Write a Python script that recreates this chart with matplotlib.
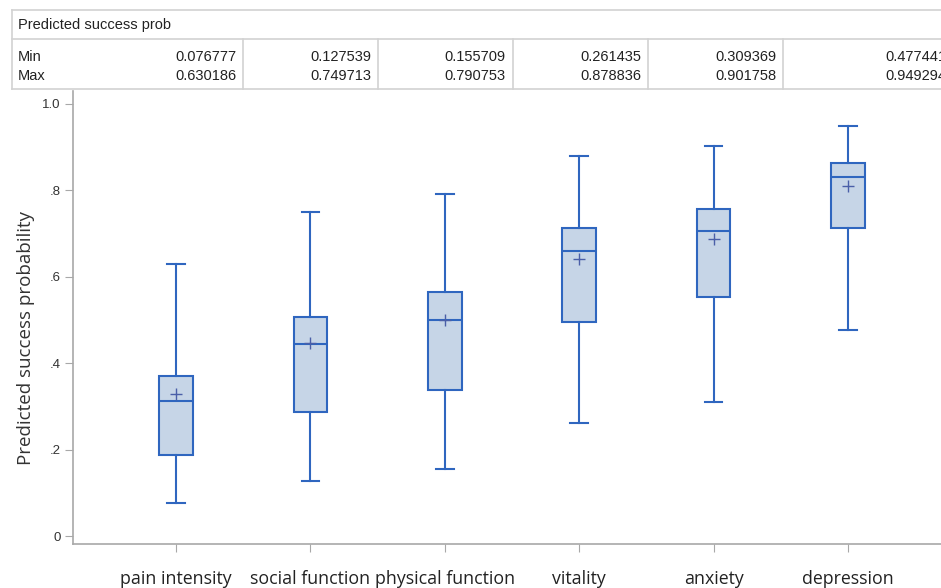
import matplotlib
matplotlib.use("Agg")
import matplotlib.pyplot as plt
from matplotlib.lines import Line2D

# categories and box statistics
categories = ["pain intensity", "social function", "physical function",
              "vitality", "anxiety", "depression"]
whisker_lo = [0.076777, 0.127539, 0.155709, 0.261435, 0.309369, 0.477441]
whisker_hi = [0.630186, 0.749713, 0.790753, 0.878836, 0.901758, 0.949294]
q1 = [0.187, 0.288, 0.339, 0.495, 0.553, 0.714]
medians = [0.313, 0.445, 0.500, 0.659, 0.707, 0.832]
q3 = [0.371, 0.507, 0.565, 0.712, 0.758, 0.864]
means = [0.329, 0.447, 0.500, 0.641, 0.687, 0.809]

# table contents
table_title = "Predicted success prob"
row_labels = ["Min", "Max"]
min_text = ["0.076777", "0.127539", "0.155709", "0.261435", "0.309369", "0.477441"]
max_text = ["0.630186", "0.749713", "0.790753", "0.878836", "0.901758", "0.949294"]

ytick_vals = [0, 0.2, 0.4, 0.6, 0.8, 1.0]
ytick_text = ["0", ".2", ".4", ".6", ".8", "1.0"]

edge = "#2f66bf"
fill = "#c6d5e7"
mean_col = "#4a5fa8"
grey = "#a8a8a8"

W, H = 941, 588
fig = plt.figure(figsize=(W / 100, H / 100), dpi=100)

# plot area in pixels: left 73, right 941, top 91, bottom 544
ax = fig.add_axes([73 / W, 1 - 544 / H, (W - 73) / W, (544 - 91) / H])

stats = []
for i, name in enumerate(categories):
    stats.append(dict(label=name, whislo=whisker_lo[i], q1=q1[i], med=medians[i],
                      q3=q3[i], whishi=whisker_hi[i], mean=means[i], fliers=[]))

pos = list(range(1, len(categories) + 1))
ax.bxp(stats, positions=pos, widths=0.25, patch_artist=True, showmeans=True,
       boxprops=dict(facecolor=fill, edgecolor=edge, linewidth=1.5),
       medianprops=dict(color=edge, linewidth=1.5),
       whiskerprops=dict(color=edge, linewidth=1.5),
       capprops=dict(color=edge, linewidth=1.5),
       capwidths=0.13,
       meanprops=dict(marker="+", markeredgecolor=mean_col, markersize=8,
                      markeredgewidth=1.0))

ax.set_xlim(0.2336, 6.692)
ax.set_ylim(-0.0185, 1.030)
ax.set_yticks(ytick_vals)
ax.set_yticklabels(ytick_text, fontsize=9.5, color="#333333",
                   family=["Liberation Sans"])
ax.set_xticks(pos)
ax.set_xticklabels(categories, fontsize=12.8, color="#222222",
                   family=["Open Sans"])
ax.tick_params(axis="x", length=6, color=grey, pad=13)
ax.tick_params(axis="y", length=6, color=grey, pad=3)
for s in ["top", "right"]:
    ax.spines[s].set_visible(False)
for s in ["left", "bottom"]:
    ax.spines[s].set_color(grey)
    ax.spines[s].set_linewidth(1.2)
ax.set_ylabel("Predicted success probability", fontsize=13.5, color="#333333",
              family=["Open Sans"])
ax.yaxis.set_label_coords(-0.044, 0.455)

# summary table on top
def px(x, y):
    return x / W, 1 - y / H

def hline(x0, x1, y):
    a, b = px(x0, y)
    c, d = px(x1, y)
    fig.add_artist(Line2D([a, c], [b, d], color="#d2d2d2", lw=1.2))

def vline(x, y0, y1):
    a, b = px(x, y0)
    c, d = px(x, y1)
    fig.add_artist(Line2D([a, c], [b, d], color="#d2d2d2", lw=1.2))

hline(12, W, 10)
hline(12, W, 39)
hline(12, W, 89)
vline(12, 10, 89)
for xd in [243, 378, 513, 648, 783]:
    vline(xd, 39, 89)

tfont = dict(fontsize=10.5, family=["Liberation Sans"], va="center",
             color="#222222")
fig.text(*px(18, 25), table_title, ha="left", **tfont)
fig.text(*px(18, 57), row_labels[0], ha="left", **tfont)
fig.text(*px(18, 76), row_labels[1], ha="left", **tfont)
right_edges = [236, 371, 506, 641, 776, 946]
for i in range(len(min_text)):
    fig.text(*px(right_edges[i], 57), min_text[i], ha="right", **tfont)
    fig.text(*px(right_edges[i], 76), max_text[i], ha="right", **tfont)

fig.savefig("out.png", dpi=100)
